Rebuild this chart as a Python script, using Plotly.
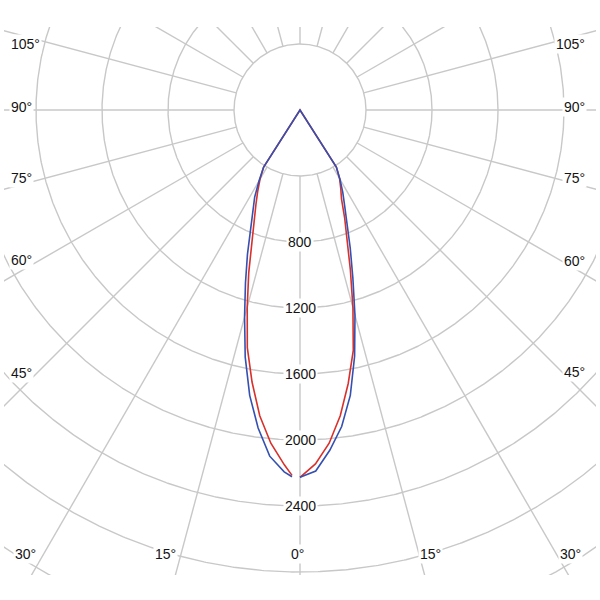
import numpy as np
import plotly.graph_objects as go

# ---------------- data (luminous intensity in cd vs. gamma angle in degrees) ----------------
gamma_right = [0, 2.5, 5, 7.5, 10, 12.5, 15, 17.5, 20, 22.5, 25, 27.5, 30, 32.5, 35]
gamma_left = [1.25, 2.5, 5, 7.5, 10, 12.5, 15, 17.5, 20, 22.5, 25, 27.5, 30, 32.5, 35]

c0_blue = [2226, 2190, 2070, 1935, 1756, 1529, 1287, 1065, 890, 748, 640, 561, 484, 410, 0]
c180_blue = [2223, 2195, 2106, 1944, 1756, 1534, 1298, 1099, 931, 786, 669, 595, 497, 410, 0]
c90_red = [2226, 2147, 2027, 1869, 1683, 1492, 1240, 1015, 831, 707, 595, 535, 480, 410, 0]
c270_red = [2215, 2154, 2027, 1869, 1674, 1475, 1236, 1033, 851, 730, 632, 555, 485, 410, 0]

radial_tick_values = [800, 1200, 1600, 2000, 2400]
grid_radii = [400, 800, 1200, 1600, 2000, 2400, 2800, 3200, 3600]
spoke_angles = list(range(0, 360, 15))

angle_label_text_side = ["105°", "90°", "75°", "60°", "45°"]
angle_label_text_bottom = ["30°", "15°", "0°", "15°", "30°"]

# ---------------- layout geometry (pixels) ----------------
W, H = 600, 600
CX, CY = 300, 110          # pole position in pixels
S = 66 / 400               # pixels per candela
ML, MR, MT, MB = 4, 4, 27, 25

x_range = [(ML - CX) / S, (W - MR - CX) / S]
y_range = [-(H - MB - CY) / S, (CY - MT) / S]

GRID = "#c8c8c8"
TXT = "#141414"
FONT = "Liberation Sans, Arial, sans-serif"
FS = 14

def to_xy(gam, r, side):
    g = np.radians(np.asarray(gam, dtype=float))
    r = np.asarray(r, dtype=float)
    return side * r * np.sin(g), -r * np.cos(g)

fig = go.Figure()

# circles
cx_all, cy_all = [], []
t = np.linspace(0, 2 * np.pi, 1441)
for R in grid_radii:
    cx_all += list(R * np.cos(t)) + [None]
    cy_all += list(R * np.sin(t)) + [None]
fig.add_trace(go.Scatter(x=cx_all, y=cy_all, mode="lines",
                         line=dict(color=GRID, width=1.4), hoverinfo="skip", showlegend=False))

# spokes (from the inner circle outwards)
sx, sy = [], []
for a in spoke_angles:
    ar = np.radians(a)
    r0, r1 = grid_radii[0], 5000
    sx += [r0 * np.sin(ar), r1 * np.sin(ar), None]
    sy += [-r0 * np.cos(ar), -r1 * np.cos(ar), None]
fig.add_trace(go.Scatter(x=sx, y=sy, mode="lines",
                         line=dict(color=GRID, width=1.4), hoverinfo="skip", showlegend=False))

# curves: left half (bottom -> pole), then right half (pole -> bottom)
def curve(left_vals, right_vals):
    xl, yl = to_xy(gamma_left, left_vals, -1)
    xr, yr = to_xy(gamma_right, right_vals, 1)
    return np.concatenate([xl, xr[::-1]]), np.concatenate([yl, yr[::-1]])

xr_, yr_ = curve(c270_red, c90_red)
fig.add_trace(go.Scatter(x=xr_, y=yr_, mode="lines", name="C90-C270",
                         line=dict(color="#d8312c", width=1.6), showlegend=False))
xb_, yb_ = curve(c180_blue, c0_blue)
fig.add_trace(go.Scatter(x=xb_, y=yb_, mode="lines", name="C0-C180",
                         line=dict(color="#3550b0", width=1.6), showlegend=False))

annotations = []
for v in radial_tick_values:
    annotations.append(dict(x=0, y=-v, xref="x", yref="y", text=str(v), showarrow=False,
                            font=dict(family=FONT, size=FS, color=TXT),
                            bgcolor="white", borderpad=1, xanchor="center", yanchor="middle"))

def px2paper(px, py):
    return (px - ML) / (W - ML - MR), (H - MB - py) / (H - MT - MB)

side_y_left = [44, 107, 178, 260, 373]
side_y_right = [44, 107, 178, 261, 372]
for txt, yl, yr in zip(angle_label_text_side, side_y_left, side_y_right):
    px, py = px2paper(9, yl)
    annotations.append(dict(x=px, y=py, xref="paper", yref="paper", text=txt, showarrow=False,
                            font=dict(family=FONT, size=FS, color=TXT), bgcolor="white",
                            borderpad=1, xanchor="left", yanchor="middle"))
    px, py = px2paper(587, yr)
    annotations.append(dict(x=px, y=py, xref="paper", yref="paper", text=txt, showarrow=False,
                            font=dict(family=FONT, size=FS, color=TXT), bgcolor="white",
                            borderpad=1, xanchor="right", yanchor="middle"))

bottom_x = [25, 165, 297, 430, 570]
for txt, bx in zip(angle_label_text_bottom, bottom_x):
    px, py = px2paper(bx, 554)
    annotations.append(dict(x=px, y=py, xref="paper", yref="paper", text=txt, showarrow=False,
                            font=dict(family=FONT, size=FS, color=TXT), bgcolor="white",
                            borderpad=1, xanchor="center", yanchor="middle"))

fig.update_layout(
    width=W, height=H, autosize=False,
    margin=dict(l=ML, r=MR, t=MT, b=MB, pad=0),
    paper_bgcolor="white", plot_bgcolor="white",
    xaxis=dict(range=x_range, showgrid=False, zeroline=False, showticklabels=False,
               showline=False, ticks="", fixedrange=True),
    yaxis=dict(range=y_range, showgrid=False, zeroline=False, showticklabels=False,
               showline=False, ticks="", fixedrange=True),
    annotations=annotations,
    showlegend=False,
)

fig.write_html("out.html", config={"displayModeBar": False},
               post_script="document.body.style.margin='0px';")
